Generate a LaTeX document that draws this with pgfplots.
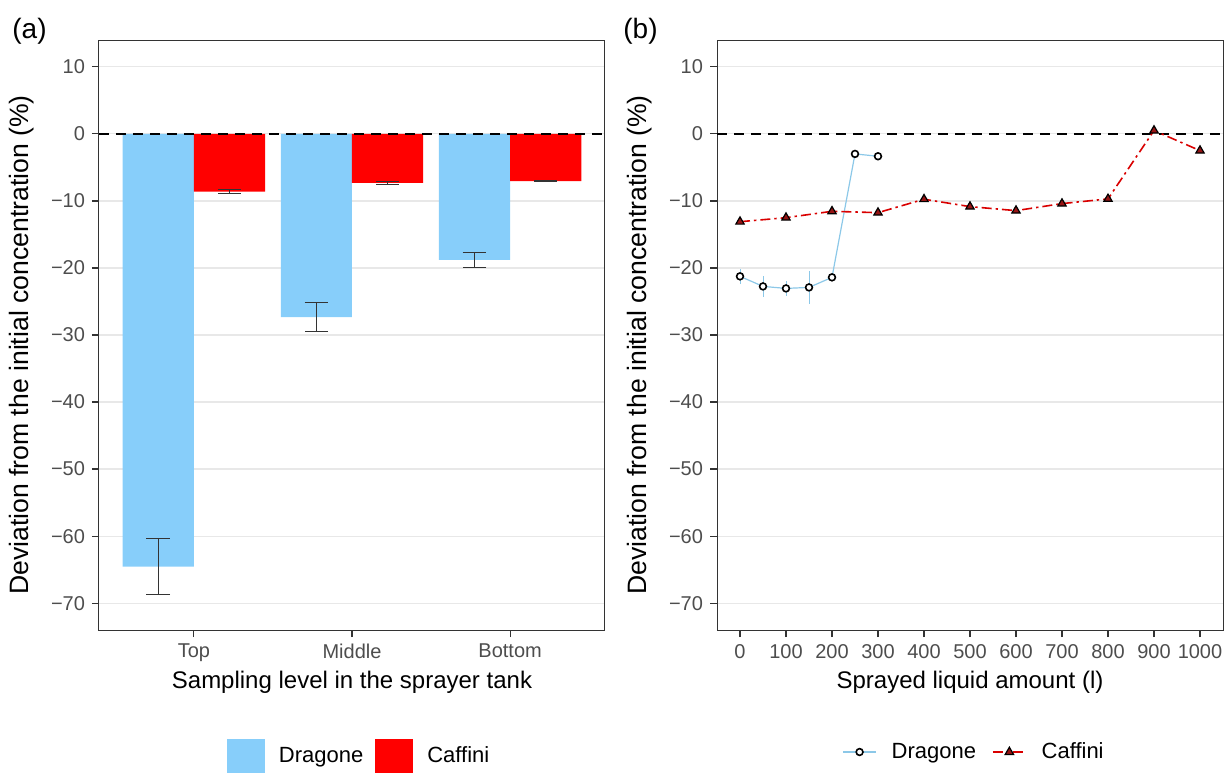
\documentclass[border=0pt]{standalone}
\usepackage{fontspec}
\setmainfont{Liberation Sans}
\usepackage{pgfplots}
\pgfplotsset{compat=1.18}
\definecolor{dblue}{RGB}{135,206,250}
\definecolor{dred}{RGB}{255,0,0}
\definecolor{lineblue}{RGB}{140,200,232}
\definecolor{trired}{RGB}{150,20,20}
\definecolor{gridc}{RGB}{232,232,232}
\definecolor{tickc}{RGB}{77,77,77}
\definecolor{framec}{RGB}{51,51,51}
\pgfplotsset{
  common/.style={
    scale only axis, width=253pt, height=295pt,
    ymin=-74, ymax=14,
    ytick={-70,-60,-50,-40,-30,-20,-10,0,10},
    yticklabels={−70,−60,−50,−40,−30,−20,−10,0,10},
    ymajorgrids, xmajorgrids=false,
    major grid style={gridc, line width=0.6pt},
    axis line style={framec, line width=0.5pt},
    tick style={framec, line width=0.6pt},
    tick align=outside, major tick length=3.5pt,
    xtick pos=bottom, ytick pos=left,
    tick label style={font=\fontsize{10}{12}\selectfont, text=tickc},
    every axis x label/.style={at={(axis description cs:0.5,0)}, yshift=-26pt, anchor=center, font=\fontsize{12}{14}\selectfont},
    every axis y label/.style={at={(axis description cs:0,0.5)}, xshift=-38.5pt, yshift=-5pt, rotate=90, anchor=center, font=\fontsize{13.3}{15}\selectfont},
    ylabel={Deviation from the initial concentration (\%)},
    legend style={draw=none, fill=none, font=\fontsize{11}{13}\selectfont, legend columns=-1,
      /tikz/every even column/.append style={column sep=4pt}},
    legend cell align=left,
  }
}
\begin{document}
\begin{tikzpicture}
\useasboundingbox (0,0) rectangle (614pt,386.5pt);
\node[anchor=base west, font=\fontsize{14}{16}\selectfont, inner sep=0pt] at (6pt,367pt) {(a)};
\node[anchor=base west, font=\fontsize{14}{16}\selectfont, inner sep=0pt] at (311.5pt,367pt) {(b)};
% ---------- (a)
\begin{axis}[common, at={(49.5pt,71.5pt)}, anchor=south west,
  xmin=0.4, xmax=3.6, xtick={1,2,3}, xticklabels={Top,Middle,Bottom},
  xlabel={Sampling level in the sprayer tank},
  legend style={at={(axis description cs:0.516,-0.2136)}, anchor=center},
]
\addplot[ybar, bar width=0.45, bar shift=0, fill=dblue, draw=none,
  legend image code/.code={\fill[dblue] (0pt,-8.5pt) rectangle (19pt,8.5pt); \path (24pt,0pt);},
  error bars/.cd, y dir=both, y explicit,
  error bar style={framec, line width=0.55pt},
  error mark options={rotate=90, mark size=5.9pt, framec, line width=0.55pt}]
  coordinates {(0.775,-64.55) +- (0,4.15) (1.775,-27.35) +- (0,2.15) (2.775,-18.8) +- (0,1.1)};
\addlegendentry{Dragone}
\addplot[ybar, bar width=0.45, bar shift=0, fill=dred, draw=none,
  legend image code/.code={\fill[dred] (0pt,-8.5pt) rectangle (19pt,8.5pt); \path (24pt,0pt);},
  error bars/.cd, y dir=both, y explicit,
  error bar style={framec, line width=0.55pt},
  error mark options={rotate=90, mark size=5.7pt, framec, line width=0.55pt}]
  coordinates {(1.225,-8.6) +- (0,0.3) (2.225,-7.3) +- (0,0.2) (3.225,-7.05) +- (0,0.08)};
\addlegendentry{Caffini}
\addplot[black, line width=0.8pt, dash pattern=on 5pt off 3.5pt, forget plot]
  coordinates {(0.4,0) (3.6,0)};
\end{axis}
% ---------- (b)
\begin{axis}[common, at={(358.5pt,71.5pt)}, anchor=south west,
  xmin=-50, xmax=1050, xtick={0,100,...,1000},
  xticklabels={0,100,200,300,400,500,600,700,800,900,1000},
  xlabel={Sprayed liquid amount (l)},
  legend style={at={(axis description cs:0.51,-0.2068)}, anchor=center,
    /tikz/every even column/.append style={column sep=6pt}},
  legend image code/.code={\draw[mark repeat=2,mark phase=2,#1] plot coordinates {(0pt,0pt) (8.25pt,0pt) (16.5pt,0pt)}; \path (22pt,0pt);},
]
\addplot[black, line width=0.8pt, dash pattern=on 5pt off 3.5pt, forget plot]
  coordinates {(-50,0) (1050,0)};
\addplot[lineblue, line width=0.6pt, mark=*, mark size=1.7pt,
  mark options={solid, draw=black, fill=white, line width=0.8pt},
  error bars/.cd, y dir=both, y explicit,
  error bar style={lineblue, line width=0.5pt}, error mark=none]
  coordinates {(0,-21.25) +- (0,1.1) (50,-22.75) +- (0,1.6) (100,-23.05) +- (0,1.1)
    (150,-22.9) +- (0,2.5) (200,-21.4) +- (0,0.6) (250,-2.99) +- (0,0) (300,-3.34) +- (0,0)};
\addlegendentry{Dragone}
\addplot[red!85!black, line width=0.8pt, dash pattern=on 5pt off 2pt on 1.2pt off 2pt,
  mark=triangle*, mark size=2.4pt,
  mark options={solid, draw=black, fill=trired, line width=0.6pt}]
  coordinates {(0,-13.1) (100,-12.5) (200,-11.55) (300,-11.75) (400,-9.75) (500,-10.85)
    (600,-11.45) (700,-10.4) (800,-9.7) (900,0.5) (1000,-2.5)};
\addlegendentry{Caffini}
\end{axis}
\end{tikzpicture}
\end{document}
